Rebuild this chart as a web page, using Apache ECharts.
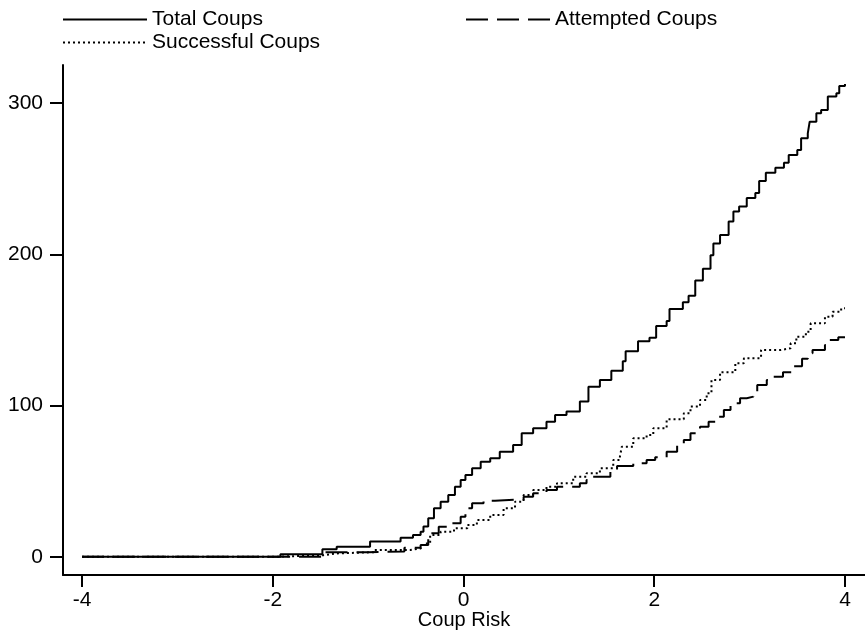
<!DOCTYPE html>
<html>
<head>
<meta charset="utf-8">
<script src="https://cdn.jsdelivr.net/npm/echarts@6/dist/echarts.min.js"></script>
<style>
  html, body { margin: 0; padding: 0; background: #fff; }
  #chart { width: 865px; height: 630px; }
</style>
</head>
<body>
<div id="chart"></div>
<script>
// cumulative coups against coup risk, [risk, count] at each step
const totalCoups = [
  [-4, 0], [-1.92, 1.6], [-1.48, 5], [-1.33, 6.6], [-0.98, 10], [-0.66, 12.5], [-0.53, 14.3],
  [-0.45, 16.5], [-0.42, 20], [-0.37, 25.4], [-0.31, 32], [-0.24, 36.4], [-0.16, 40.8],
  [-0.09, 46.3], [-0.03, 50.7], [0.02, 54], [0.09, 58.5], [0.18, 62.9], [0.28, 65.1],
  [0.38, 69.5], [0.52, 73.9], [0.61, 81.6], [0.73, 85], [0.87, 89.3], [0.96, 93.8],
  [1.08, 96], [1.22, 102.6], [1.31, 112.5], [1.43, 116.9], [1.55, 123], [1.67, 129.3],
  [1.70, 136], [1.83, 142.6], [1.95, 144.8], [2.02, 152.6], [2.13, 156], [2.16, 163.8],
  [2.30, 168.3], [2.36, 172.7], [2.43, 182.8], [2.51, 190.5], [2.59, 199.4], [2.62, 207.2],
  [2.69, 212.9], [2.78, 221.7], [2.83, 228.4], [2.89, 231.7], [2.97, 237.3], [3.06, 240.7],
  [3.10, 248.5], [3.17, 254], [3.27, 257.3], [3.36, 260.6], [3.41, 265.8], [3.50, 269.1],
  [3.54, 276.8], [3.61, 280.1], [3.63, 287.8], [3.70, 293.4], [3.75, 295.6], [3.82, 304.4],
  [3.91, 306.6], [3.94, 311.4], [4.0, 312.8]
]
const attemptedCoups = [
  [-4, 0], [-1.48, 3], [-1.0, 3.5], [-0.62, 6], [-0.45, 7.7], [-0.37, 15.5], [-0.26, 19.9],
  [-0.14, 22.1], [-0.03, 26.5], [0.02, 32], [0.09, 35.3], [0.21, 37.1], [0.33, 38],
  [0.63, 39.7], [0.73, 42], [0.87, 44.1], [0.98, 46.3], [1.22, 48.6], [1.29, 50.7],
  [1.33, 52.9], [1.54, 57.4], [1.61, 60], [1.78, 61.8], [1.92, 64], [2.01, 65.8],
  [2.13, 69.5], [2.24, 73.9], [2.31, 77.2], [2.38, 81.7], [2.48, 86], [2.57, 89.3],
  [2.66, 92.6], [2.73, 97.1], [2.80, 101.5], [2.90, 104.8], [2.97, 105.9], [3.04, 109.2],
  [3.08, 113.6], [3.18, 116.9], [3.25, 119], [3.35, 122], [3.45, 126], [3.55, 131],
  [3.61, 134.6], [3.66, 136.8], [3.79, 140.1], [3.84, 143.4], [3.93, 145.2], [4.0, 145.2]
]
const successfulCoups = [
  [-4, 0], [-1.96, 1], [-1.47, 2.2], [-1.33, 3], [-0.94, 4.4], [-0.56, 5.5], [-0.45, 6.6],
  [-0.42, 8.8], [-0.35, 14.4], [-0.24, 16.5], [-0.10, 18.8], [0.04, 21], [0.14, 24.3],
  [0.28, 27.6], [0.42, 32], [0.54, 36.4], [0.63, 40.8], [0.73, 44.1], [0.87, 46.3],
  [0.98, 48.6], [1.15, 52.9], [1.29, 55.2], [1.43, 58.5], [1.57, 64], [1.64, 66.2],
  [1.66, 72.8], [1.78, 78.3], [1.92, 80.5], [1.99, 85], [2.13, 90.9], [2.31, 94.9],
  [2.38, 99.3], [2.48, 103.7], [2.55, 108.1], [2.60, 116.9], [2.69, 122], [2.85, 128],
  [2.94, 131.3], [3.12, 136.8], [3.33, 137.9], [3.43, 141.2], [3.49, 145.6], [3.59, 148.9],
  [3.64, 154.4], [3.79, 158.8], [3.87, 162.1], [3.96, 164.3], [4.0, 164.3]
]
const xTicks = [-4, -2, 0, 2, 4]
const yTicks = [0, 100, 200, 300]

const font = 'Liberation Sans'
let chart = echarts.init(document.getElementById('chart'))
window.addEventListener('resize', () => {
  chart.resize()
})

const stepLine = (name, data, type) => ({
  name: name,
  type: 'line',
  step: 'end',
  data: data,
  symbol: 'none',
  lineStyle: { color: '#000', width: 2, type: type }
})

const legendText = { fontFamily: font, fontSize: 21, color: '#000', lineHeight: 23 }

chart.setOption({
  animation: false,
  color: ['#000'],
  textStyle: { fontFamily: font, color: '#000' },
  legend: [
    {
      data: ['Total Coups', 'Successful Coups'],
      orient: 'vertical',
      left: 62,
      top: 8,
      padding: 0,
      itemWidth: 84,
      itemHeight: 14,
      itemGap: 0,
      itemStyle: { opacity: 0 },
      textStyle: legendText
    },
    {
      data: ['Attempted Coups'],
      left: 465,
      top: 8,
      padding: 0,
      itemWidth: 84,
      itemHeight: 14,
      itemStyle: { opacity: 0 },
      textStyle: legendText
    }
  ],
  grid: {
    left: 63,
    right: 0,
    top: 65,
    bottom: 55,
    outerBoundsMode: 'none'
  },
  xAxis: {
    type: 'value',
    min: -4.2,
    max: 4.21,
    name: 'Coup Risk',
    nameLocation: 'middle',
    nameGap: 35,
    nameMoveOverlap: false,
    nameTextStyle: { fontFamily: font, fontSize: 20, color: '#000' },
    splitLine: { show: false },
    axisLine: { onZero: false, lineStyle: { color: '#000', width: 2 } },
    axisTick: { customValues: xTicks, length: 12, lineStyle: { color: '#000', width: 2 } },
    axisLabel: { customValues: xTicks, margin: 15, fontFamily: font, fontSize: 21, color: '#000' }
  },
  yAxis: {
    type: 'value',
    min: -12.1,
    max: 325.3,
    splitLine: { show: false },
    axisLine: { show: true, onZero: false, lineStyle: { color: '#000', width: 2 } },
    axisTick: { show: true, customValues: yTicks, length: 13, lineStyle: { color: '#000', width: 2 } },
    axisLabel: { customValues: yTicks, margin: 20, fontFamily: font, fontSize: 21, color: '#000' }
  },
  series: [
    stepLine('Total Coups', totalCoups, 'solid'),
    stepLine('Attempted Coups', attemptedCoups, [22, 9]),
    stepLine('Successful Coups', successfulCoups, [2, 3])
  ]
})
</script>
</body>
</html>
